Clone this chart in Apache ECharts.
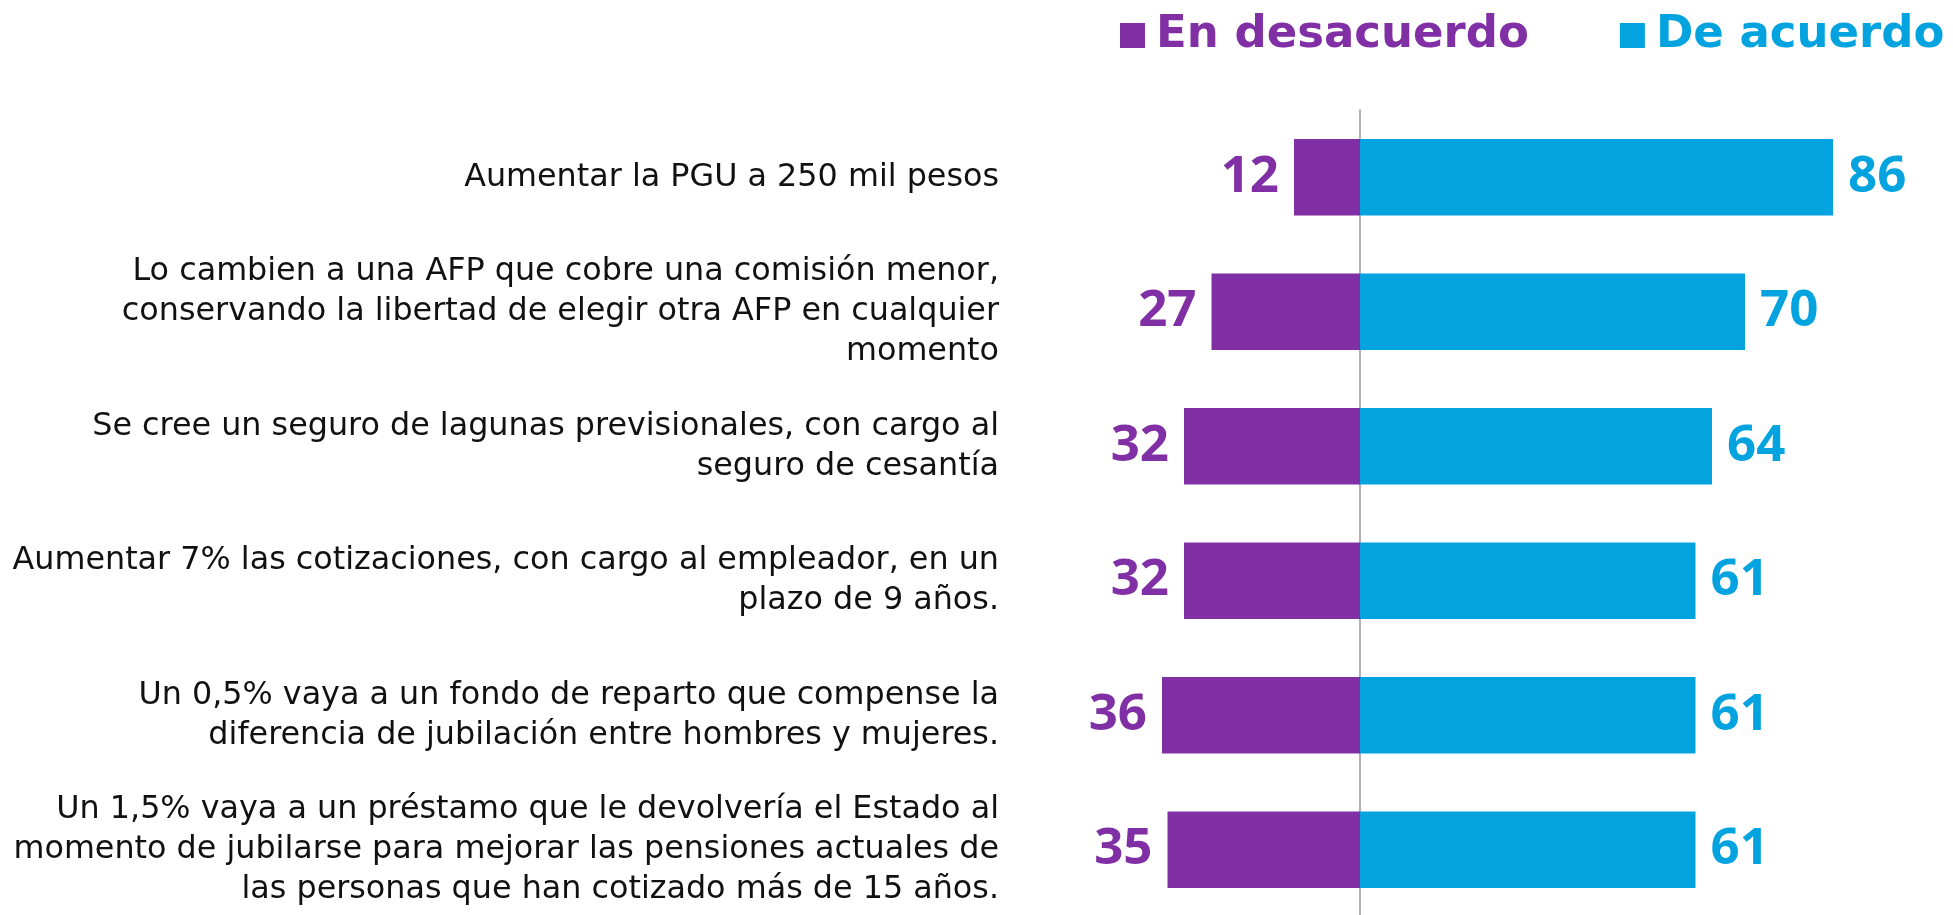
<!DOCTYPE html>
<html>
<head>
<meta charset="utf-8">
<script src="https://cdn.jsdelivr.net/npm/echarts@6/dist/echarts.min.js"></script>
<style>
  html, body { margin: 0; padding: 0; background: #fff; }
  #chart { width: 1953px; height: 915px; }
</style>
</head>
<body>
<div id="chart"></div>
<script>
// categorías (de arriba hacia abajo)
const categories = [
  'Aumentar la PGU a 250 mil pesos',
  'Lo cambien a una AFP que cobre una comisión menor,\nconservando la libertad de elegir otra AFP en cualquier\nmomento',
  'Se cree un seguro de lagunas previsionales, con cargo al\nseguro de cesantía',
  'Aumentar 7% las cotizaciones, con cargo al empleador, en un\nplazo de 9 años.',
  'Un 0,5% vaya a un fondo de reparto que compense la\ndiferencia de jubilación entre hombres y mujeres.',
  'Un 1,5% vaya a un préstamo que le devolvería el Estado al\nmomento de jubilarse para mejorar las pensiones actuales de\nlas personas que han cotizado más de 15 años.'
]
const seriesNames = ['En desacuerdo', 'De acuerdo']
const desacuerdo = [12, 27, 32, 32, 36, 35]
const deAcuerdo = [86, 70, 64, 61, 61, 61]

const PURPLE = '#812FA5'
const BLUE = '#03A3E0'
const FONT = '"Open Sans", "Noto Sans", sans-serif'
const WIDE = '"DejaVu Sans", sans-serif'

const chart = echarts.init(document.getElementById('chart'))
chart.setOption({
  animation: false,
  legend: {
    left: 1115,
    top: 8,
    icon: 'rect',
    itemWidth: 25,
    itemHeight: 25,
    itemGap: 91,
    selectedMode: false,
    data: [
      {name: seriesNames[0], textStyle: {color: PURPLE}},
      {name: seriesNames[1], textStyle: {color: BLUE}}
    ],
    textStyle: {fontFamily: WIDE, fontSize: 45, fontWeight: 'bold', padding: [0, 0, 0, 6]}
  },
  grid: {
    left: 1140,
    right: 43,
    top: 110,
    height: 807,
    outerBoundsMode: 'none'
  },
  xAxis: {
    type: 'value',
    min: -40,
    max: 100,
    show: false
  },
  yAxis: {
    type: 'category',
    inverse: true,
    data: categories,
    axisTick: {show: false},
    axisLine: {show: true, onZero: true, lineStyle: {color: '#999', width: 1.5}},
    axisLabel: {
      margin: 141,
      align: 'right',
      fontFamily: WIDE,
      fontSize: 31.8,
      lineHeight: 40,
      color: '#111'
    }
  },
  series: [
    {
      name: seriesNames[0],
      type: 'bar',
      stack: 'total',
      barCategoryGap: '43%',
      itemStyle: {color: PURPLE},
      data: desacuerdo.map(v => -v),
      label: {
        show: true,
        position: 'left',
        distance: 15,
        formatter: p => Math.abs(p.value),
        fontFamily: FONT,
        fontSize: 51,
        fontWeight: 'bold',
        color: PURPLE
      }
    },
    {
      name: seriesNames[1],
      type: 'bar',
      stack: 'total',
      barCategoryGap: '43%',
      itemStyle: {color: BLUE},
      data: deAcuerdo,
      label: {
        show: true,
        position: 'right',
        distance: 15,
        fontFamily: FONT,
        fontSize: 51,
        fontWeight: 'bold',
        color: BLUE
      }
    }
  ]
})
</script>
</body>
</html>
